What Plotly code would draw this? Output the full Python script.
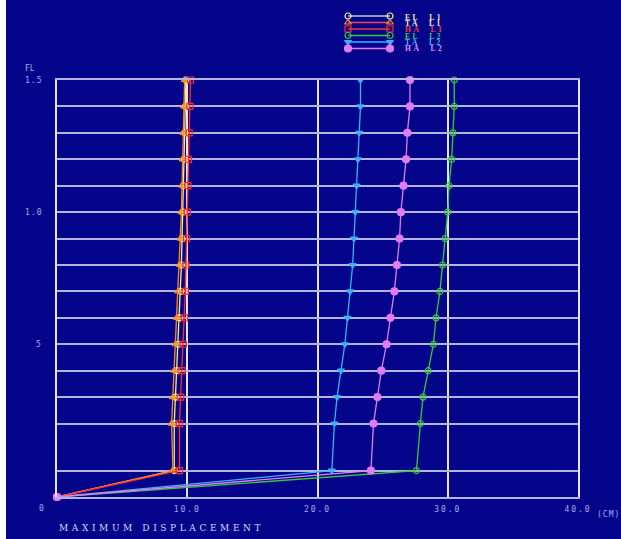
import plotly.graph_objects as go

# floor levels (relative heights); index 0 = ground
floors = list(range(0, 16))
levels = [0, 1.0, 2.78, 3.78, 4.78, 5.78, 6.78, 7.78, 8.78, 9.78, 10.78,
          11.78, 12.78, 13.78, 14.78, 15.78]

el_l1 = [0, 9.0, 9.0, 9.1, 9.2, 9.3, 9.4, 9.5, 9.55, 9.6, 9.65, 9.7, 9.75, 9.8, 9.85, 9.9]
ta_l1 = [0, 8.9, 8.8, 8.9, 9.0, 9.1, 9.2, 9.3, 9.4, 9.5, 9.55, 9.6, 9.65, 9.7, 9.75, 9.8]
ha_l1 = [0, 9.4, 9.4, 9.5, 9.6, 9.7, 9.8, 9.85, 9.9, 9.95, 10.0, 10.05, 10.1, 10.15, 10.2, 10.25]
el_l2 = [0, 27.6, 27.9, 28.1, 28.5, 28.9, 29.1, 29.4, 29.6, 29.8, 30.0, 30.1, 30.3, 30.4, 30.5, 30.5]
ta_l2 = [0, 21.1, 21.3, 21.5, 21.8, 22.1, 22.3, 22.5, 22.7, 22.8, 22.9, 23.0, 23.1, 23.2, 23.3, 23.3]
ha_l2 = [0, 24.1, 24.3, 24.6, 24.9, 25.3, 25.6, 25.9, 26.1, 26.3, 26.4, 26.6, 26.8, 26.9, 27.1, 27.1]

series_names = ["EL L1", "TA L1", "HA L1", "EL L2", "TA L2", "HA L2"]
series_vals = [el_l1, ta_l1, ha_l1, el_l2, ta_l2, ha_l2]
line_colors = ["#f4f08a", "#ff8c1a", "#ff2a2a", "#38c838", "#3ab0f8", "#e27cf4"]
text_colors = ["#f4f0a0", "#f0eed8", "#ff3a3a", "#44d044", "#40b8ff", "#e890ff"]
legend_line_colors = ["#c8c8c8", "#ff4a4a", "#ff3030", "#38c838", "#3ab0f8", "#e27cf4"]
symbols = ["circle-open", "triangle-up-open", "square-open", "circle-open", "triangle-down", "circle"]
msizes = [6, 6, 6, 6, 6, 7]

x_ticks = [10, 20, 30, 40]
x_ticktext = ["10.0", "20.0", "30.0", "40.0"]
y_ticklabels = {5: "5", 10: "1.0", 15: "1.5"}

BG = "#05058c"
W, H = 621, 539
ML, MR, MT, MB = 57, 43, 0, 42
PW, PH = W - ML - MR, H - MT - MB


def px(x):
    return (x - ML) / PW


def py(y):
    return (H - MB - y) / PH


fig = go.Figure()
for name, vals, lc, sym, ms in zip(series_names, series_vals, line_colors, symbols, msizes):
    fig.add_trace(go.Scatter(
        x=vals, y=levels, mode="lines+markers", name=name,
        line=dict(color=lc, width=1.3),
        marker=dict(symbol=sym, size=ms, color=lc, line=dict(color=lc, width=1.2)),
        cliponaxis=False, showlegend=False))

# custom compact legend (drawn on an overlay axis measured in pixels)
leg_sym_y = [16, 22.5, 29, 35.5, 42, 48.5]
leg_txt_y = [17, 23.2, 29.6, 36, 42.2, 48.4]
for i, name in enumerate(series_names):
    fig.add_trace(go.Scatter(
        x=[348, 390], y=[leg_sym_y[i], leg_sym_y[i]], mode="lines+markers",
        xaxis="x2", yaxis="y2", showlegend=False, hoverinfo="skip",
        line=dict(color=legend_line_colors[i], width=1.3),
        marker=dict(symbol=symbols[i], size=msizes[i], color=line_colors[i],
                    line=dict(color=line_colors[i], width=1.2)),
        cliponaxis=False))

annotations = []
for i, name in enumerate(series_names):
    annotations.append(dict(
        xref="paper", yref="paper", x=px(403), y=py(leg_txt_y[i]),
        xanchor="left", yanchor="middle", showarrow=False,
        text="<span style='letter-spacing:2.6px'><b>" + name.replace(" ", "&nbsp;&nbsp;") + "</b></span>",
        font=dict(family="Liberation Serif", size=7.5, color=text_colors[i])))

tick_font = dict(family="DejaVu Sans Mono", size=8, color="#a8a8ec")
for fl, lab in y_ticklabels.items():
    annotations.append(dict(
        xref="paper", yref="y", x=px(44), y=levels[fl], xanchor="right", yanchor="middle",
        showarrow=False, text="<span style='letter-spacing:1px'>" + lab + "</span>", font=tick_font))
annotations.append(dict(xref="paper", yref="paper", x=px(30), y=py(75), xanchor="center",
                        yanchor="bottom", showarrow=False, text="FL", font=tick_font))
annotations.append(dict(xref="paper", yref="paper", x=px(41), y=py(508), xanchor="center",
                        yanchor="middle", showarrow=False, text="0", font=tick_font))
annotations.append(dict(xref="paper", yref="paper", x=px(595), y=py(514), xanchor="left",
                        yanchor="middle", showarrow=False,
                        text="<span style='letter-spacing:1px'>(CM)</span>", font=tick_font))
annotations.append(dict(xref="paper", yref="paper", x=px(57), y=py(528), xanchor="left",
                        yanchor="middle", showarrow=False,
                        text="<span style='letter-spacing:3.6px'>MAXIMUM DISPLACEMENT</span>",
                        font=dict(family="DejaVu Serif", size=9, color="#d8d8f4")))

y_domain_top = py(80)

fig.update_layout(
    width=W, height=H,
    margin=dict(l=ML, r=MR, t=MT, b=MB, pad=0),
    paper_bgcolor=BG, plot_bgcolor=BG,
    showlegend=False,
    xaxis=dict(range=[0, 40], tickvals=x_ticks,
               ticktext=["<span style='letter-spacing:2px'>" + t + "</span>" for t in x_ticktext],
               tickfont=tick_font, ticks="", ticklabelstandoff=4,
               showgrid=True, gridcolor="#e4e4ec", gridwidth=1.5,
               showline=True, linecolor="#b4b4e0", linewidth=1.5, mirror=True,
               zeroline=False, fixedrange=True),
    yaxis=dict(range=[0, levels[-1]], domain=[0, y_domain_top],
               tickvals=levels, showticklabels=False, ticks="",
               showgrid=True, gridcolor="#b4b4e0", gridwidth=1.5,
               showline=True, linecolor="#e4e4ec", linewidth=1.5, mirror=True,
               zeroline=False, fixedrange=True),
    xaxis2=dict(range=[ML, W - MR], domain=[0, 1], anchor="y2", visible=False, fixedrange=True),
    yaxis2=dict(range=[H - MB - (y_domain_top + 0.002) * PH, 0], domain=[y_domain_top + 0.002, 1],
                anchor="x2", visible=False, fixedrange=True),
    annotations=annotations,
    shapes=[dict(type="rect", xref="paper", yref="paper", x0=px(0), x1=px(6),
                 y0=py(H), y1=py(0), fillcolor="white", line=dict(width=0), layer="above")],
)

fig.write_html("out.html", config={"displayModeBar": False},
               post_script="document.body.style.margin='0';document.body.style.overflow='hidden';")
